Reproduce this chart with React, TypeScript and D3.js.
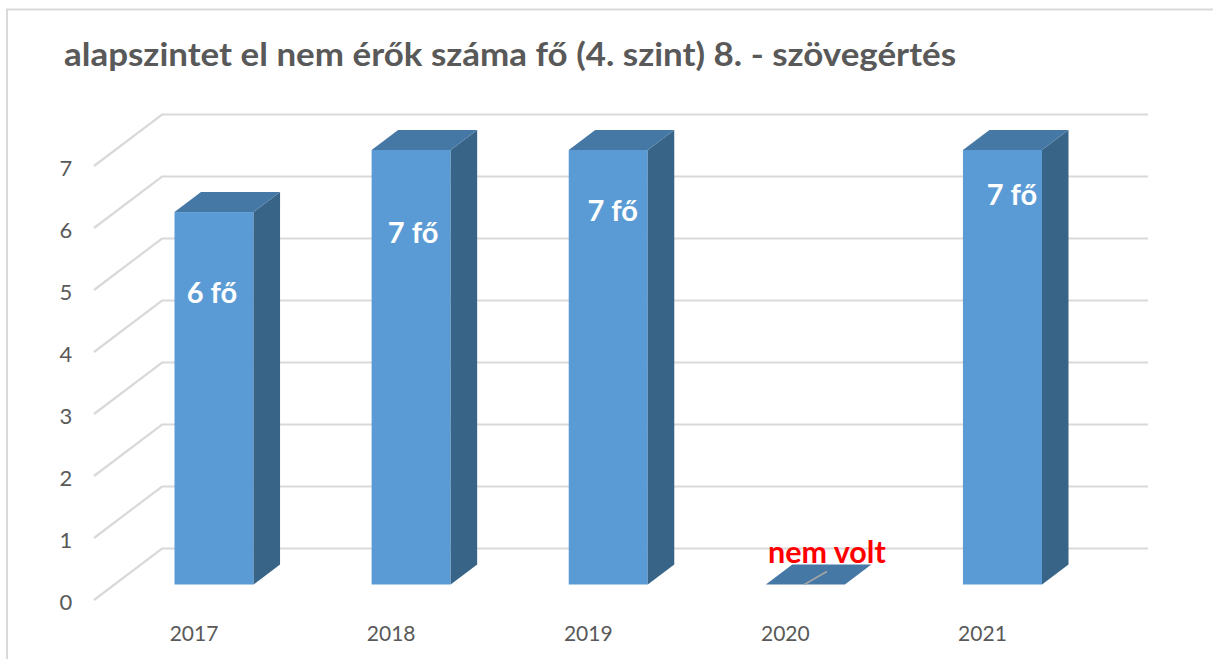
import React from "react";
import * as d3 from "d3";

const categories = ["2017", "2018", "2019", "2020", "2021"];
const values = [6, 7, 7, 0, 7];
const dataLabels = ["6 fő", "7 fő", "7 fő", "nem volt", "7 fő"];
const yTicks = [0, 1, 2, 3, 4, 5, 6, 7];
const titleText = "alapszintet el nem érők száma fő (4. szint) 8. - szövegértés";

// label placement (layout, not data): offset of each label's centre from the bar centre / bar top
const labelDX = [-2, 2, 4.5, 21.5, 9.5];
const labelDY = [79, 81, 59, -34, 43];

const FONT = "Lato, Carlito, 'Open Sans', sans-serif";
const W = 1213;
const H = 659;

const x = d3.scaleBand<string>().domain(categories).range([174.5, 1042]).paddingInner(0.599).paddingOuter(0);
const yBar = d3.scaleLinear().domain([0, 7]).range([584.5, 150]);
const yFront = d3.scaleLinear().domain([0, 7]).range([600, 166]);
const yBack = d3.scaleLinear().domain([0, 7]).range([548.5, 114.5]);
const depthX = 26.5;
const depthY = 20;
const gridFrontX = 94;
const gridBackX = 162;
const gridRight = 1148;
const line = d3.line<[number, number]>();

export default function App() {
  return (
    <svg width={W} height={H} style={{ position: "absolute", left: 0, top: 0, display: "block", background: "#fff" }} fontFamily={FONT}>
      <path d={line([[7, H], [7, 9.5], [W, 9.5]])!} fill="none" stroke="#d9d9d9" strokeWidth={2} />
      <text x={64} y={66} fontSize={33} fontWeight={700} fill="#595959" textLength={892} lengthAdjust="spacingAndGlyphs">{titleText}</text>

      {yTicks.map((t) => (
        <g key={t}>
          <path
            d={line([[gridFrontX, yFront(t)], [gridBackX, yBack(t)], [gridRight, yBack(t)]])!}
            fill="none"
            stroke="#d9d9d9"
            strokeWidth={2.2}
          />
          <text x={66} y={yFront(t) + 1} fontSize={22} fill="#595959" textAnchor="middle" dominantBaseline="central">{t}</text>
        </g>
      ))}

      {categories.map((c, i) => {
        const x0 = x(c)!;
        const x1 = x0 + x.bandwidth();
        const top = yBar(values[i]);
        const base = yBar(0);
        const cx = (x0 + x1) / 2;
        const zero = values[i] === 0;
        return (
          <g key={c}>
            {!zero && (
              <rect x={x0} y={top} width={x1 - x0} height={base - top} fill="#5b9bd5" />
            )}
            {!zero && (
              <path
                d={line([[x1, top], [x1 + depthX, top - depthY], [x1 + depthX, base - depthY], [x1, base]])! + "Z"}
                fill="#386587"
              />
            )}
            <path
              d={line([[x0, top], [x0 + depthX, top - depthY], [x1 + depthX, top - depthY], [x1, top]])! + "Z"}
              fill="#4678a5"
            />
            {zero && (
              <path d={line([[cx - 1, base], [cx + 21.5, base - 13]])!} stroke="#a6a6a6" strokeWidth={1.5} fill="none" />
            )}
            <text
              x={cx + labelDX[i]}
              y={top + labelDY[i]}
              fontSize={zero ? 30.5 : 29}
              fontWeight={700}
              fill={zero ? "#ff0000" : "#ffffff"}
              textAnchor="middle"
              dominantBaseline="central"
            >
              {dataLabels[i]}
            </text>
            <text x={cx - 20} y={632} fontSize={21} fill="#595959" textAnchor="middle" dominantBaseline="central">{c}</text>
          </g>
        );
      })}
    </svg>
  );
}
